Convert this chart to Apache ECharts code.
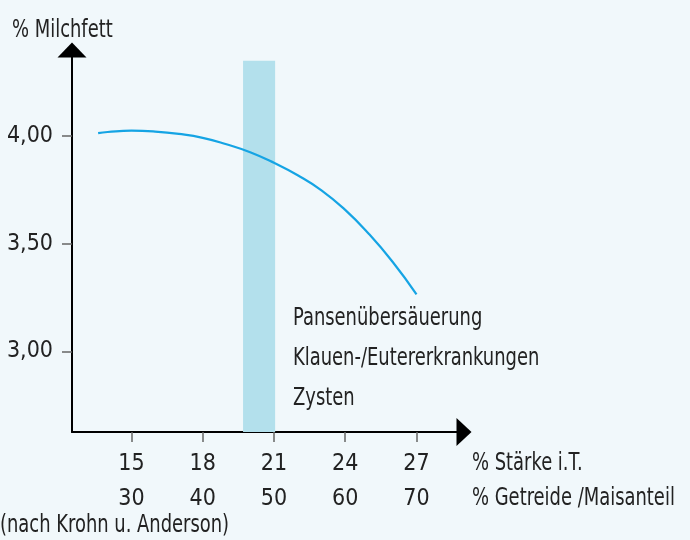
<!DOCTYPE html>
<html>
<head>
<meta charset="utf-8">
<script src="https://cdn.jsdelivr.net/npm/echarts@6/dist/echarts.min.js"></script>
<style>
  html, body { margin: 0; padding: 0; background: #f1f8fb; }
  #chart { width: 690px; height: 540px; }
</style>
</head>
<body>
<div id="chart"></div>
<script>
// % Stärke i.T. (x) vs. % Milchfett (y)
const starke = [13.6, 14, 15, 16, 17, 18, 19, 20, 21, 22, 23, 24, 25, 26, 27];
const milchfett = [4.014, 4.019, 4.025, 4.021, 4.01, 3.992, 3.962, 3.925, 3.876, 3.818, 3.748, 3.657, 3.545, 3.415, 3.265];

// tick labels
const starkeTicks = [15, 18, 21, 24, 27];
const getreideTicks = [30, 40, 50, 60, 70];
const fettTicks = [3, 3.5, 4];

// highlighted band (x from..to, top value)
const bandX = [19.7, 21.05];
const bandTop = 4.35;

const risks = ['Pansenübersäuerung', 'Klauen-/Eutererkrankungen', 'Zysten'];

const FONT = '"Liberation Sans Narrow", "DejaVu Sans Condensed", sans-serif';
const TXT = '#222';

const chart = echarts.init(document.getElementById('chart'));

const yMin = 2.625, yMax = 4.4;

// condensed-looking free text
function label(text, x, y) {
  return {
    type: 'text', x: x, y: y, scaleX: 0.83,
    style: { text: text, font: '24px ' + FONT, fill: TXT, verticalAlign: 'top' }
  };
}

const option = {
  backgroundColor: '#f1f8fb',
  animation: false,
  textStyle: { fontFamily: FONT },
  grid: { left: 72, right: 226, top: 50, bottom: 108 },
  xAxis: {
    type: 'value',
    min: 12.5,
    max: 29,
    splitLine: { show: false },
    axisLine: {
      lineStyle: { color: '#000', width: 2 },
      symbol: ['none', 'triangle'],
      symbolSize: [28, 15]
    },
    axisTick: { customValues: starkeTicks, length: 10, lineStyle: { color: '#666', width: 1.5 } },
    axisLabel: {
      customValues: starkeTicks,
      margin: 15,
      fontSize: 23,
      lineHeight: 35,
      color: TXT,
      fontFamily: FONT,
      formatter: v => v + '\n' + getreideTicks[starkeTicks.indexOf(v)]
    }
  },
  yAxis: {
    type: 'value',
    min: yMin,
    max: yMax,
    splitLine: { show: false },
    axisLine: {
      lineStyle: { color: '#000', width: 2 },
      symbol: ['none', 'triangle'],
      symbolSize: [29, 15]
    },
    axisTick: { customValues: fettTicks, length: 10, lineStyle: { color: '#666', width: 1.5 } },
    axisLabel: {
      customValues: fettTicks,
      margin: 19,
      fontSize: 23,
      color: TXT,
      fontFamily: FONT,
      formatter: v => v.toFixed(2).replace('.', ',')
    }
  },
  series: [{
    type: 'line',
    data: starke.map((x, i) => [x, milchfett[i]]),
    smooth: 0.5,
    showSymbol: false,
    lineStyle: { color: '#15a4e4', width: 2.2 },
    markArea: {
      silent: true,
      itemStyle: { color: '#b3e0ec' },
      data: [[{ xAxis: bandX[0], yAxis: yMin }, { xAxis: bandX[1], yAxis: bandTop }]]
    }
  }],
  graphic: [
    label('% Milchfett', 12, 19),
    label('% Stärke i.T.', 472, 452),
    label('% Getreide /Maisanteil', 472, 487),
    label('(nach Krohn u. Anderson)', 0, 514)
  ].concat(risks.map((t, i) => label(t, 293, 307 + i * 40)))
};

chart.setOption(option);
</script>
</body>
</html>
